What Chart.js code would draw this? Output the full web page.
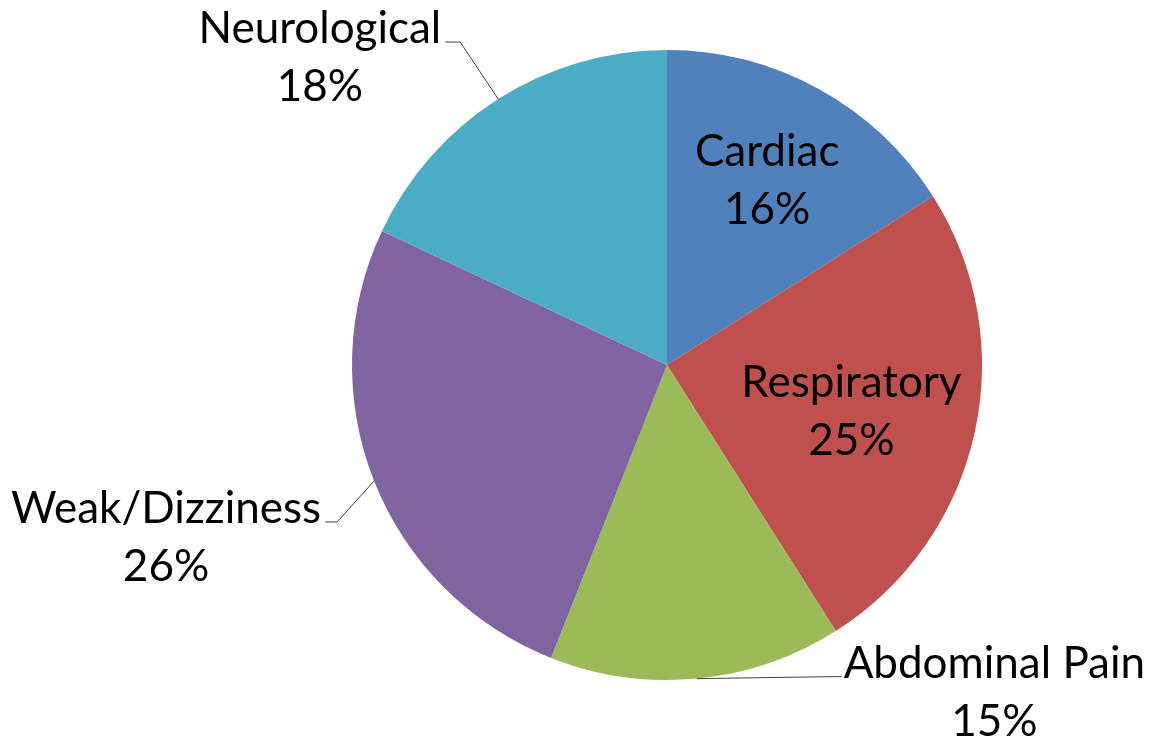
<!DOCTYPE html>
<html>
<head>
<meta charset="utf-8">
<script src="https://cdn.jsdelivr.net/npm/chart.js@4.4.1/dist/chart.umd.min.js"></script>
<style>
    html, body { margin: 0; padding: 0; background: #fff; }
    #wrap { width: 1150px; height: 740px; }
</style>
</head>
<body>
<div id="wrap"><canvas id="pieChart" width="1150" height="740"></canvas></div>
<script>
// Daten
const categories = ['Cardiac', 'Respiratory', 'Abdominal Pain', 'Weak/Dizziness', 'Neurological'];
const shares = [16, 25, 15, 26, 18];
const sliceColors = ['#4F81BD', '#C0504D', '#9BBB59', '#8064A2', '#4BACC6'];

// Beschriftung: innen (Anteil vom Radius) oder außen mit Führungslinie
const labelLayout = [
    { inside: true, rf: 0.66, dy: -2 },
    { inside: true, rf: 0.60, dy: 6 },
    { inside: false, elbow: [141, -2], tail: 4, align: 'left' },
    { inside: false, elbow: [-37, 41], tail: -12, align: 'right' },
    { inside: false, elbow: [-38, -57], tail: -15, align: 'right' }
];

const FONT = '44px Lato';
const LINE_GAP = 58;

const pieLabels = {
    id: 'pieLabels',
    afterDraw(chart) {
        const ctx = chart.ctx;
        const arcs = chart.getDatasetMeta(0).data;
        ctx.save();
        ctx.font = FONT;
        ctx.fillStyle = '#000';
        ctx.textBaseline = 'middle';
        arcs.forEach((arc, i) => {
            const p = arc.getProps(['x', 'y', 'startAngle', 'endAngle', 'outerRadius'], true);
            const mid = (p.startAngle + p.endAngle) / 2;
            const cfg = labelLayout[i];
            const name = categories[i];
            const pct = shares[i] + '%';
            if (cfg.inside) {
                const r = p.outerRadius * cfg.rf;
                const cx = p.x + r * Math.cos(mid);
                const cy = p.y + r * Math.sin(mid) + cfg.dy;
                ctx.textAlign = 'center';
                ctx.fillText(name, cx, cy - LINE_GAP / 2);
                ctx.fillText(pct, cx, cy + LINE_GAP / 2);
                return;
            }
            const ax = p.x + p.outerRadius * Math.cos(mid);
            const ay = p.y + p.outerRadius * Math.sin(mid);
            const ex = ax + cfg.elbow[0];
            const ey = ay + cfg.elbow[1];
            const tx = ex + cfg.tail;
            ctx.strokeStyle = '#404040';
            ctx.lineWidth = 1;
            ctx.beginPath();
            ctx.moveTo(ax, ay);
            ctx.lineTo(ex, ey);
            ctx.lineTo(tx, ey);
            ctx.stroke();
            const w = ctx.measureText(name).width;
            let left;
            if (cfg.align === 'left') {
                left = tx + 2;
            } else {
                left = tx - 4 - w;
            }
            const ty = ey - 13;
            ctx.textAlign = 'left';
            ctx.fillText(name, left, ty);
            ctx.textAlign = 'center';
            ctx.fillText(pct, left + w / 2, ty + LINE_GAP);
        });
        ctx.restore();
    }
};

new Chart(document.getElementById('pieChart').getContext('2d'), {
    type: 'pie',
    data: {
        labels: categories,
        datasets: [{
            data: shares,
            backgroundColor: sliceColors,
            borderWidth: 0
        }]
    },
    options: {
        responsive: false,
        animation: false,
        layout: {
            padding: { left: 352, right: 168, top: 50, bottom: 60 }
        },
        plugins: {
            legend: { display: false },
            tooltip: { enabled: false }
        }
    },
    plugins: [pieLabels]
});
</script>
</body>
</html>
